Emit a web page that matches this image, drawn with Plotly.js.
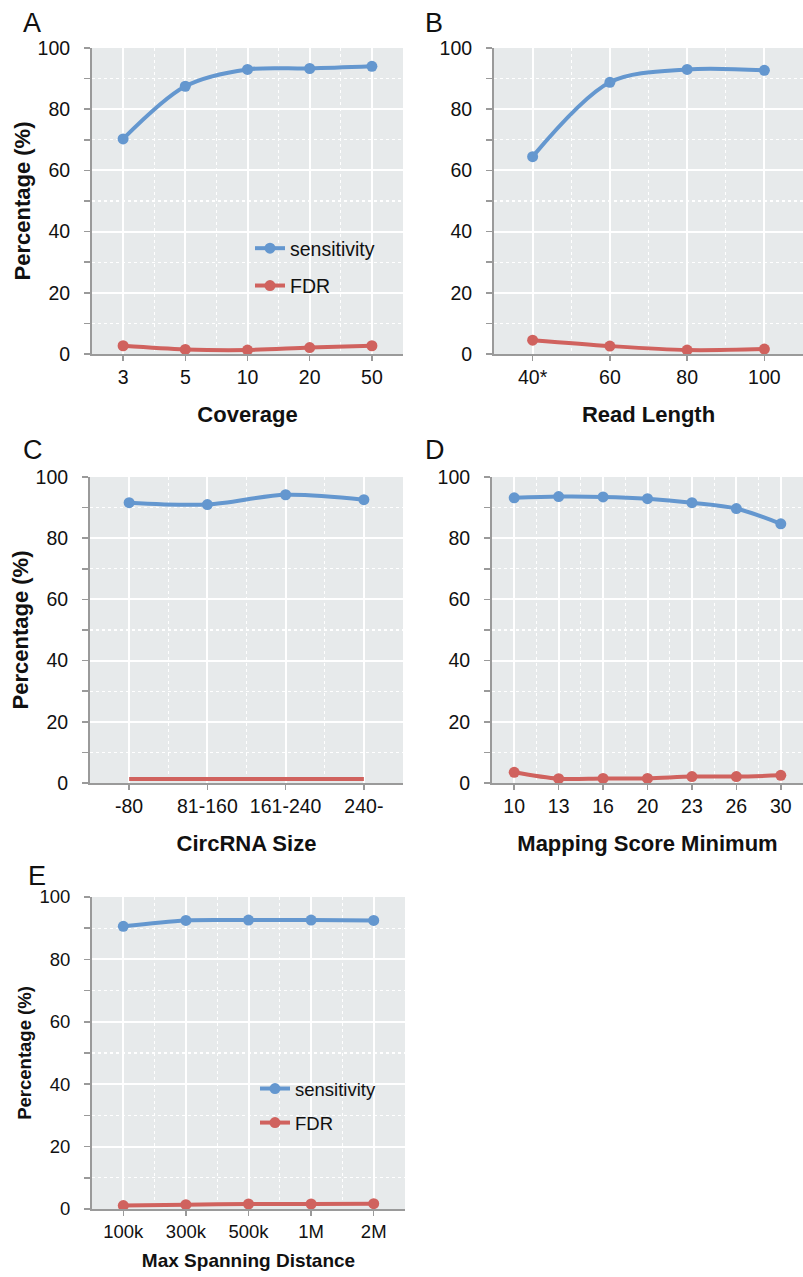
<!DOCTYPE html>
<html>
<head>
<meta charset="utf-8">
<script src="https://cdn.plot.ly/plotly-3.0.1.min.js"></script>
<style>html,body{margin:0;padding:0;background:#fff;}#chart{width:803px;height:1277px;}</style>
</head>
<body>
<div id="chart"></div>
<script>
// ---- data ----
const coverageCats = ['3', '5', '10', '20', '50'];
const coverageSens = [70.3, 87.5, 93.0, 93.3, 94.0];
const coverageFdr  = [2.7, 1.5, 1.3, 2.1, 2.7];

const readLenCats = ['40*', '60', '80', '100'];
const readLenSens = [64.5, 88.8, 93.0, 92.7];
const readLenFdr  = [4.5, 2.6, 1.3, 1.6];

const sizeCats = ['-80', '81-160', '161-240', '240-'];
const sizeSens = [91.6, 91.0, 94.2, 92.6];
const sizeFdr  = [1.3, 1.3, 1.3, 1.3];

const scoreCats = ['10', '13', '16', '20', '23', '26', '30'];
const scoreSens = [93.2, 93.6, 93.5, 92.9, 91.6, 89.7, 84.7];
const scoreFdr  = [3.5, 1.4, 1.5, 1.5, 2.1, 2.1, 2.5];

const spanCats = ['100k', '300k', '500k', '1M', '2M'];
const spanSens = [90.6, 92.5, 92.6, 92.6, 92.5];
const spanFdr  = [1.1, 1.4, 1.6, 1.6, 1.7];

const yTickVals = [0, 20, 40, 60, 80, 100];

// ---- styling ----
const W = 803, H = 1277;
const BLUE = '#6497cf', RED = '#d0625e';
const FONT = 'Liberation Sans, Arial, Helvetica, sans-serif';
const idx = a => a.map((_, i) => i);
const px = (a, b) => [a / W, b / W];
const py = (top, bottom) => [1 - bottom / H, 1 - top / H];

const traces = [];
function addPanel(n, cats, sens, fdr, opts) {
  const xa = n === 1 ? 'x' : 'x' + n, ya = n === 1 ? 'y' : 'y' + n;
  const x = idx(cats);
  traces.push({
    x: x, y: sens, xaxis: xa, yaxis: ya, name: 'sensitivity', type: 'scatter',
    mode: 'lines+markers', line: {color: BLUE, width: 4, shape: 'spline', smoothing: 0.9},
    marker: {color: BLUE, size: 11}, cliponaxis: false,
    showlegend: !!opts.legend, legend: opts.legend || 'legend', legendgroup: 'g1' + n
  });
  traces.push({
    x: x, y: fdr, xaxis: xa, yaxis: ya, name: 'FDR', type: 'scatter',
    mode: opts.fdrLinesOnly ? 'lines' : 'lines+markers',
    line: {color: RED, width: 4, shape: 'spline', smoothing: 0.9},
    marker: {color: RED, size: 11}, cliponaxis: false,
    showlegend: !!opts.legend, legend: opts.legend || 'legend', legendgroup: 'g2' + n
  });
}
addPanel(1, coverageCats, coverageSens, coverageFdr, {legend: 'legend'});
addPanel(2, readLenCats, readLenSens, readLenFdr, {});
addPanel(3, sizeCats, sizeSens, sizeFdr, {fdrLinesOnly: true});
addPanel(4, scoreCats, scoreSens, scoreFdr, {});
addPanel(5, spanCats, spanSens, spanFdr, {legend: 'legend2'});

function xAxis(cats, dom, anchor, title, tfs, titleFs, lblOff, titleOff) {
  return {
    domain: dom, anchor: anchor, range: [-0.5, cats.length - 0.5],
    tickvals: idx(cats), ticktext: cats, ticks: 'outside', ticklen: 5, tickwidth: 1.5,
    tickcolor: '#9a9a9a', showline: true, linecolor: '#9a9a9a', linewidth: 2,
    showgrid: true, gridcolor: '#ffffff', gridwidth: 2, zeroline: false,
    minor: {tick0: 0.5, dtick: 1, showgrid: true, gridcolor: '#ffffff', gridwidth: 1.2, griddash: 'dot', ticks: ''},
    tickfont: {family: FONT, size: tfs, color: '#111'}, ticklabelstandoff: lblOff,
    title: {text: '<b>' + title + '</b>', font: {family: FONT, size: titleFs, color: '#111'}, standoff: titleOff},
    fixedrange: true
  };
}
function yAxis(dom, anchor, tfs, titleFs, showTitle, titleOff) {
  return {
    domain: dom, anchor: anchor, range: [0, 100],
    tickvals: yTickVals, ticks: 'outside', ticklen: 6, tickwidth: 1.5, tickcolor: '#9a9a9a',
    showline: true, linecolor: '#9a9a9a', linewidth: 2,
    showgrid: true, gridcolor: '#ffffff', gridwidth: 2, zeroline: false,
    minor: {dtick: 10, tick0: 0, showgrid: true, gridcolor: '#ffffff', gridwidth: 1.2, griddash: 'dot',
            ticks: 'outside', ticklen: 6, tickwidth: 1.5, tickcolor: '#9a9a9a'},
    tickfont: {family: FONT, size: tfs, color: '#111'}, ticklabelstandoff: 10,
    title: showTitle ? {text: '<b>Percentage (%)</b>', font: {family: FONT, size: titleFs, color: '#111'}, standoff: titleOff} : {text: ''},
    fixedrange: true
  };
}

const layout = {
  width: W, height: H, margin: {l: 0, r: 0, t: 0, b: 0},
  paper_bgcolor: '#ffffff', plot_bgcolor: '#e7eaeb',
  font: {family: FONT, color: '#111'},
  xaxis:  xAxis(coverageCats, px(92, 403), 'y',  'Coverage', 19.5, 22, 0, 19),
  yaxis:  yAxis(py(48, 354), 'x', 19.5, 22, true, 1),
  xaxis2: xAxis(readLenCats, px(494, 803), 'y2', 'Read Length', 19.5, 22, 0, 19),
  yaxis2: yAxis(py(48, 354), 'x2', 19.5, 22, false, 1),
  xaxis3: xAxis(sizeCats, px(90, 403), 'y3', 'CircRNA Size', 19.5, 22, 0, 19),
  yaxis3: yAxis(py(477, 783), 'x3', 19.5, 22, true, 1),
  xaxis4: xAxis(scoreCats, px(492, 803), 'y4', 'Mapping Score Minimum', 19.5, 22, 0, 19),
  yaxis4: yAxis(py(477, 783), 'x4', 19.5, 22, false, 1),
  xaxis5: xAxis(spanCats, px(92, 405), 'y5', 'Max Spanning Distance', 18.5, 19, 0, 12),
  yaxis5: yAxis(py(897, 1209), 'x5', 18.5, 18.5, true, 3),
  legend: {x: 250 / W, y: 1 - 229 / H, xanchor: 'left', yanchor: 'top', bgcolor: 'rgba(0,0,0,0)',
           font: {family: FONT, size: 19.5, color: '#111'}, tracegroupgap: 9, itemwidth: 30},
  legend2: {x: 255 / W, y: 1 - 1070 / H, xanchor: 'left', yanchor: 'top', bgcolor: 'rgba(0,0,0,0)',
           font: {family: FONT, size: 18.5, color: '#111'}, tracegroupgap: 7, itemwidth: 30},
  annotations: [
    {text: 'A', x: 21 / W, y: 1 - 6 / H},
    {text: 'B', x: 423 / W, y: 1 - 6 / H},
    {text: 'C', x: 21 / W, y: 1 - 433 / H},
    {text: 'D', x: 423 / W, y: 1 - 433 / H},
    {text: 'E', x: 26 / W, y: 1 - 859 / H}
  ].map(a => Object.assign(a, {xref: 'paper', yref: 'paper', xanchor: 'left', yanchor: 'top',
        showarrow: false, font: {family: FONT, size: 27, color: '#111'}}))
};

Plotly.newPlot('chart', traces, layout, {staticPlot: true, displayModeBar: false});
</script>
</body>
</html>
